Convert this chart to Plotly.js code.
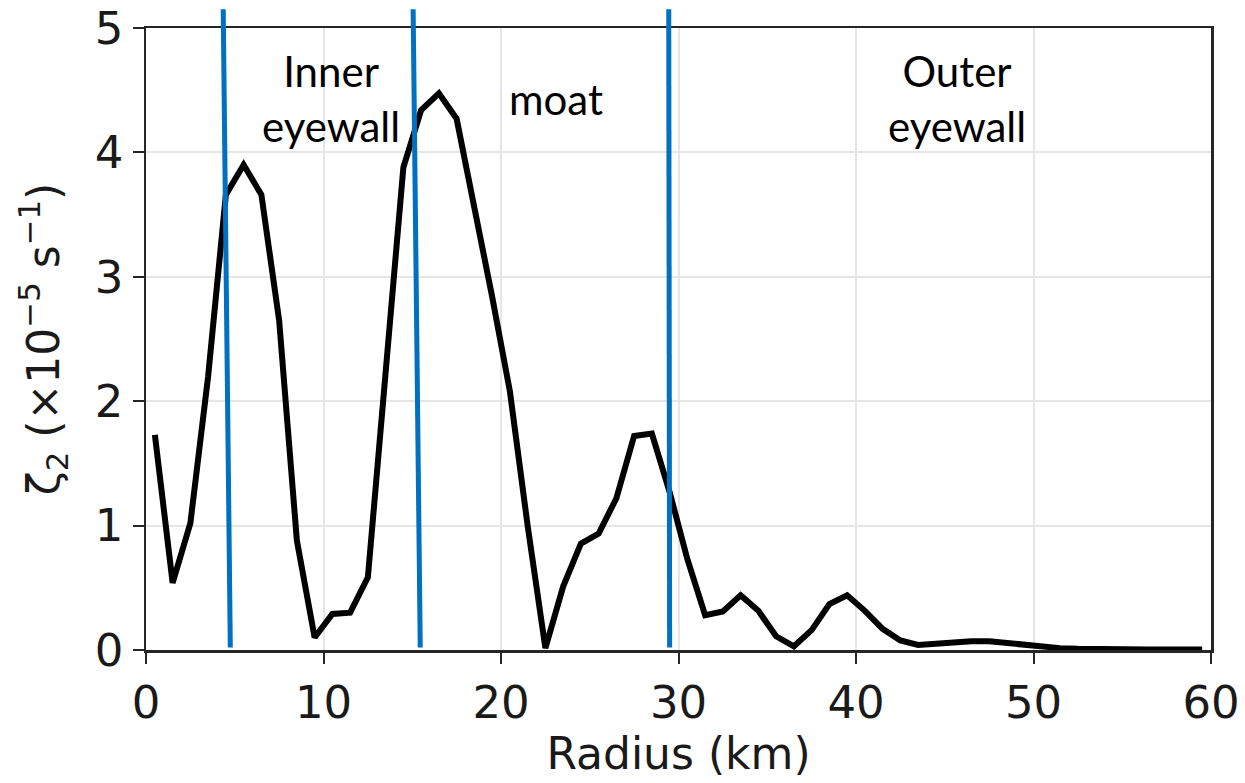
<!DOCTYPE html>
<html>
<head>
<meta charset="utf-8">
<script src="https://cdn.plot.ly/plotly-3.0.1.min.js"></script>
<style>
  html, body { margin: 0; padding: 0; background: #ffffff; }
  #chart { width: 1245px; height: 783px; }
</style>
</head>
<body>
<div id="chart"></div>
<script>
// Radial profile of wavenumber-2 vorticity amplitude
const radius = [
  0.5, 1.5, 2.5, 3.5, 4.5, 5.5, 6.5, 7.5, 8.5, 9.5,
  10.5, 11.5, 12.5, 13.5, 14.5, 15.5, 16.5, 17.5, 18.5, 19.5,
  20.5, 21.5, 22.5, 23.5, 24.5, 25.5, 26.5, 27.5, 28.5, 29.5,
  30.5, 31.5, 32.5, 33.5, 34.5, 35.5, 36.5, 37.5, 38.5, 39.5,
  40.5, 41.5, 42.5, 43.5, 44.5, 45.5, 46.5, 47.5, 48.5, 49.5,
  50.5, 51.5, 52.5, 53.5, 54.5, 55.5, 56.5, 57.5, 58.5, 59.5
];
const zeta2 = [
  1.73, 0.54, 1.02, 2.20, 3.66, 3.90, 3.66, 2.65, 0.88, 0.10,
  0.29, 0.30, 0.585, 2.20, 3.88, 4.34, 4.475, 4.27, 3.58, 2.84,
  2.08, 1.00, 0.015, 0.51, 0.855, 0.935, 1.22, 1.72, 1.74, 1.27,
  0.73, 0.28, 0.31, 0.44, 0.315, 0.11, 0.03, 0.16, 0.37, 0.44,
  0.315, 0.17, 0.077, 0.04, 0.05, 0.066, 0.07, 0.07, 0.055, 0.04,
  0.025, 0.015, 0.01, 0.006, 0.005, 0.005, 0.004, 0.004, 0.004, 0.004
];

// Region boundaries (km): each marker is drawn from its top radius to its bottom radius
const boundaryTop = [4.35, 15.05, 29.45];
const boundaryBottom = [4.75, 15.45, 29.5];

// Region labels and their centre radii
const regionLabels = ['Inner<br>eyewall', 'moat', 'Outer<br>eyewall'];
const regionCentres = [10.4, 23.1, 45.7];

const xTicks = [0, 10, 20, 30, 40, 50, 60];
const yTicks = [0, 1, 2, 3, 4, 5];

const tickFont = { family: 'DejaVu Sans', size: 45, color: '#1a1a1a' };
const titleFont = { family: 'DejaVu Sans', size: 44, color: '#1a1a1a' };

const shapes = boundaryTop.map((xt, i) => ({
  type: 'line',
  xref: 'x', yref: 'paper',
  x0: boundaryBottom[i], x1: xt,
  y0: 0.004, y1: 1.03,
  line: { color: '#0070C0', width: 5 },
  layer: 'above'
}));

const annotations = regionLabels.map((t, i) => ({
  text: t,
  xref: 'x', yref: 'paper',
  x: regionCentres[i], y: 0.886,
  xanchor: 'center', yanchor: 'middle',
  showarrow: false,
  align: 'center',
  font: { family: 'Lato', size: 42, color: '#000000' }
}));

const trace = {
  x: radius,
  y: zeta2,
  type: 'scatter',
  mode: 'lines',
  line: { color: '#000000', width: 6 },
  hoverinfo: 'skip',
  cliponaxis: false
};

const layout = {
  width: 1245,
  height: 783,
  margin: { l: 146, r: 34, t: 28, b: 133 },
  paper_bgcolor: '#ffffff',
  plot_bgcolor: '#ffffff',
  showlegend: false,
  xaxis: {
    range: [0, 60],
    tickvals: xTicks,
    ticktext: xTicks.map(String),
    ticks: 'outside', ticklen: 11, tickwidth: 2, tickcolor: '#262626',
    showline: true, linecolor: '#262626', linewidth: 2.5, mirror: true,
    showgrid: true, gridcolor: '#e6e6e6', gridwidth: 2,
    zeroline: false,
    tickfont: tickFont,
    title: { text: 'Radius (km)', font: titleFont, standoff: 9 }
  },
  yaxis: {
    range: [0, 5],
    tickvals: yTicks,
    ticktext: yTicks.map(String),
    ticks: 'outside', ticklen: 11, tickwidth: 2, tickcolor: '#262626',
    showline: true, linecolor: '#262626', linewidth: 2.5, mirror: true,
    showgrid: true, gridcolor: '#e6e6e6', gridwidth: 2,
    zeroline: false,
    tickfont: tickFont,
    title: {
      text: 'ζ<sub>2</sub> (×10<sup>−5</sup> s<sup>−1</sup>)',
      font: titleFont,
      standoff: 22
    }
  },
  shapes: shapes,
  annotations: annotations
};

Plotly.newPlot('chart', [trace], layout, { displayModeBar: false, staticPlot: true });
</script>
</body>
</html>
